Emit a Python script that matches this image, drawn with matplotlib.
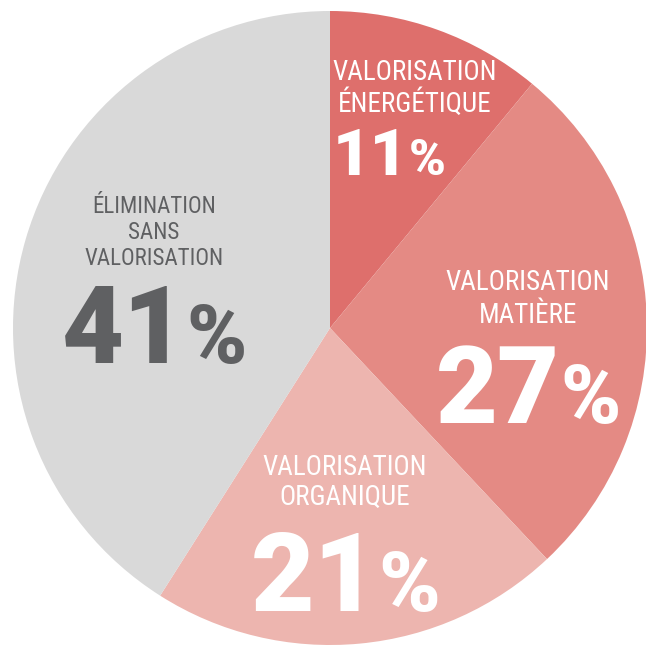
import matplotlib.pyplot as plt
from matplotlib import font_manager

# parts des modes de traitement (%)
categories = ["VALORISATION\nÉNERGÉTIQUE", "VALORISATION\nMATIÈRE",
              "VALORISATION\nORGANIQUE", "ÉLIMINATION\nSANS\nVALORISATION"]
values = [11, 27, 21, 41]
colors = ["#DE6F6C", "#E48A84", "#EDB5AF", "#D9D9D9"]
text_colors = ["white", "white", "white", "#5F6062"]

W, H = 646, 648


def pick(*families):
    names = {f.name for f in font_manager.fontManager.ttflist}
    for fam in families:
        if fam in names:
            return fam
    return "DejaVu Sans"


label_font = pick("Roboto Condensed", "IBM Plex Sans Condensed", "Fira Sans Condensed",
                  "Archivo Narrow", "Liberation Sans Narrow")
number_font = pick("Roboto", "Inter", "Liberation Sans")

fig = plt.figure(figsize=(W / 100, H / 100), dpi=100)
ax = fig.add_axes([0, 0, 1, 1])

cx, cy, r = 330, H - 328, 317
ax.pie(values, colors=colors, startangle=90, counterclock=False,
       center=(cx, cy), radius=r, frame=True,
       wedgeprops=dict(linewidth=0))
ax.set_xlim(0, W)
ax.set_ylim(0, H)
ax.set_aspect("equal")
ax.axis("off")
renderer = fig.canvas.get_renderer()

# positions en pixels depuis le haut :
# (x centre libellé, lignes de base du libellé, taille libellé,
#  x gauche du nombre, ligne de base du nombre, taille nombre, écart avant %)
layout = [
    (415, [80, 112], 19.5, 333, 175, 47, 0),
    (528, [290, 323], 19.5, 436, 423, 77, 0),
    (345, [475, 505], 19.5, 251, 611, 79, 0),
    (154, [213, 239, 265], 16.5, 62, 363, 77, 0),
]

for cat, val, tc, (lx, bases, lsz, nl, nb, nsz, gap) in zip(categories, values, text_colors, layout):
    for line, b in zip(cat.split("\n"), bases):
        ax.text(lx, H - b, line, ha="center", va="baseline", color=tc,
                fontsize=lsz, family=label_font, fontweight="normal")
    num = ax.text(nl, H - nb, str(val), ha="left", va="baseline", color=tc,
                  fontsize=nsz, family=number_font, fontweight=900)
    # le % suit directement le nombre
    x1 = ax.transData.inverted().transform(num.get_window_extent(renderer))[1][0]
    ax.text(x1 + gap, H - nb, "%", ha="left", va="baseline", color=tc,
            fontsize=nsz * 0.76, family=number_font, fontweight=900)

fig.savefig("out.png", dpi=100, facecolor="white")
